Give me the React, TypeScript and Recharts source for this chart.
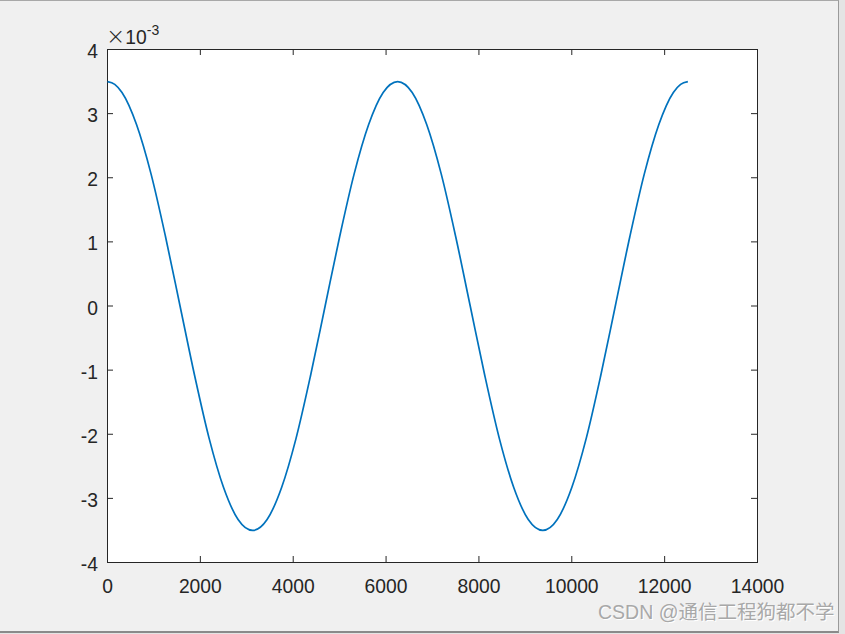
import React from "react";
import { LineChart, Line, XAxis, YAxis } from "recharts";

// sample positions (x)
const xValues = [
  0, 156.25, 312.5, 625, 937.5, 1250, 1562.5, 1875, 2187.5, 2500, 2812.5,
  3125, 3437.5, 3750, 4062.5, 4375, 4687.5, 5000, 5312.5, 5625, 5937.5,
  6250, 6562.5, 6875, 7187.5, 7500, 7812.5, 8125, 8437.5, 8750, 9062.5,
  9375, 9687.5, 10000, 10312.5, 10625, 10937.5, 11250, 11562.5, 11875, 12187.5,
  12343.75, 12500,
];
// values in units of 1e-3
const yValues = [
  3.5, 3.457, 3.33, 2.83, 2.06, 1.08, 0, -1.08, -2.06, -2.83, -3.33,
  -3.5, -3.33, -2.83, -2.06, -1.08, 0, 1.08, 2.06, 2.83, 3.33,
  3.5, 3.33, 2.83, 2.06, 1.08, 0, -1.08, -2.06, -2.83, -3.33,
  -3.5, -3.33, -2.83, -2.06, -1.08, 0, 1.08, 2.06, 2.83, 3.33,
  3.457, 3.5,
];
const xTicks = [0, 2000, 4000, 6000, 8000, 10000, 12000, 14000];
const yTicks = [-4, -3, -2, -1, 0, 1, 2, 3, 4];
const exponentLabel = "-3";
const watermark = "CSDN @通信工程狗都不学";

const data = xValues.map((x, i) => ({ x, y: yValues[i] }));

const W = 845;
const H = 634;
const PL = 107;
const PR = 757;
const PT = 49;
const PB = 562;
const TICK = 6;
const AX = "#262626";
const FONT = "'Liberation Sans', Arial, Helvetica, sans-serif";
const XAH = 40;
const YAW = 40;
const FS = 19.3;

const renderXTick = (props: any) => {
  const { x, payload } = props;
  return (
    <g key={`xt-${payload.value}`}>
      <line x1={x} x2={x} y1={PB} y2={PB - TICK} stroke={AX} strokeWidth={1} />
      <line x1={x} x2={x} y1={PT} y2={PT + TICK} stroke={AX} strokeWidth={1} />
      <text x={x} y={PB + 30.5} textAnchor="middle" fontSize={FS} fill={AX} fontFamily={FONT}>
        {payload.value}
      </text>
    </g>
  );
};

const renderYTick = (props: any) => {
  const { y, payload } = props;
  return (
    <g key={`yt-${payload.value}`}>
      <line x1={PL} x2={PL + TICK} y1={y} y2={y} stroke={AX} strokeWidth={1} />
      <line x1={PR} x2={PR - TICK} y1={y} y2={y} stroke={AX} strokeWidth={1} />
      <text x={PL - 9} y={y + 8.5} textAnchor="end" fontSize={FS} fill={AX} fontFamily={FONT}>
        {payload.value}
      </text>
    </g>
  );
};

export default function App() {
  return (
    <div style={{ position: "absolute", left: 0, top: 0, width: W, height: H, background: "#e4e4e4", overflow: "hidden" }}>
      <div
        style={{
          position: "absolute",
          left: 0,
          top: 0,
          width: 839,
          height: 633,
          background: "#f0f0f0",
          borderTop: "1px solid #a8a8a8",
          borderRight: "1px solid #9a9a9a",
          borderBottom: "2px solid #8a8a8a",
          boxSizing: "border-box",
        }}
      />
      <div
        style={{
          position: "absolute",
          left: PL,
          top: PT,
          width: PR - PL + 1,
          height: PB - PT + 1,
          background: "#ffffff",
          border: `1px solid ${AX}`,
          boxSizing: "border-box",
        }}
      />
      <div style={{ position: "absolute", left: 0, top: 0 }}>
        <LineChart
          width={W}
          height={H}
          data={data}
          margin={{ top: PT + 0.5, left: PL + 0.5 - YAW, right: W - PR - 0.5, bottom: H - PB - 0.5 - XAH }}
        >
          <XAxis
            dataKey="x"
            type="number"
            domain={[0, 14000]}
            ticks={xTicks}
            height={XAH}
            axisLine={false}
            tickLine={false}
            tick={renderXTick}
            interval={0}
          />
          <YAxis
            type="number"
            domain={[-4, 4]}
            ticks={yTicks}
            width={YAW}
            axisLine={false}
            tickLine={false}
            tick={renderYTick}
            interval={0}
          />
          <Line
            dataKey="y"
            type="monotone"
            stroke="#0072BD"
            strokeWidth={1.7}
            dot={false}
            isAnimationActive={false}
          />
        </LineChart>
      </div>
      <div
        style={{
          position: "absolute",
          left: 106,
          top: 25,
          fontFamily: FONT,
          color: AX,
          whiteSpace: "nowrap",
          lineHeight: 1,
        }}
      >
        <span style={{ fontSize: 23, fontFamily: "'DejaVu Sans', sans-serif", fontWeight: 200 }}>×</span>
        <span style={{ fontSize: 19.3 }}>10</span>
        <span style={{ fontSize: 14, position: "relative", top: -9 }}>{exponentLabel}</span>
      </div>
      <div
        style={{
          position: "absolute",
          left: 598,
          top: 603,
          fontFamily: "'Liberation Sans', Arial, 'Noto Sans CJK SC', sans-serif",
          fontSize: 19.5,
          color: "#a8a8a8",
          textShadow: "1px 1px 0 #ffffff",
          whiteSpace: "nowrap",
          lineHeight: 1,
        }}
      >
        {watermark}
      </div>
    </div>
  );
}
